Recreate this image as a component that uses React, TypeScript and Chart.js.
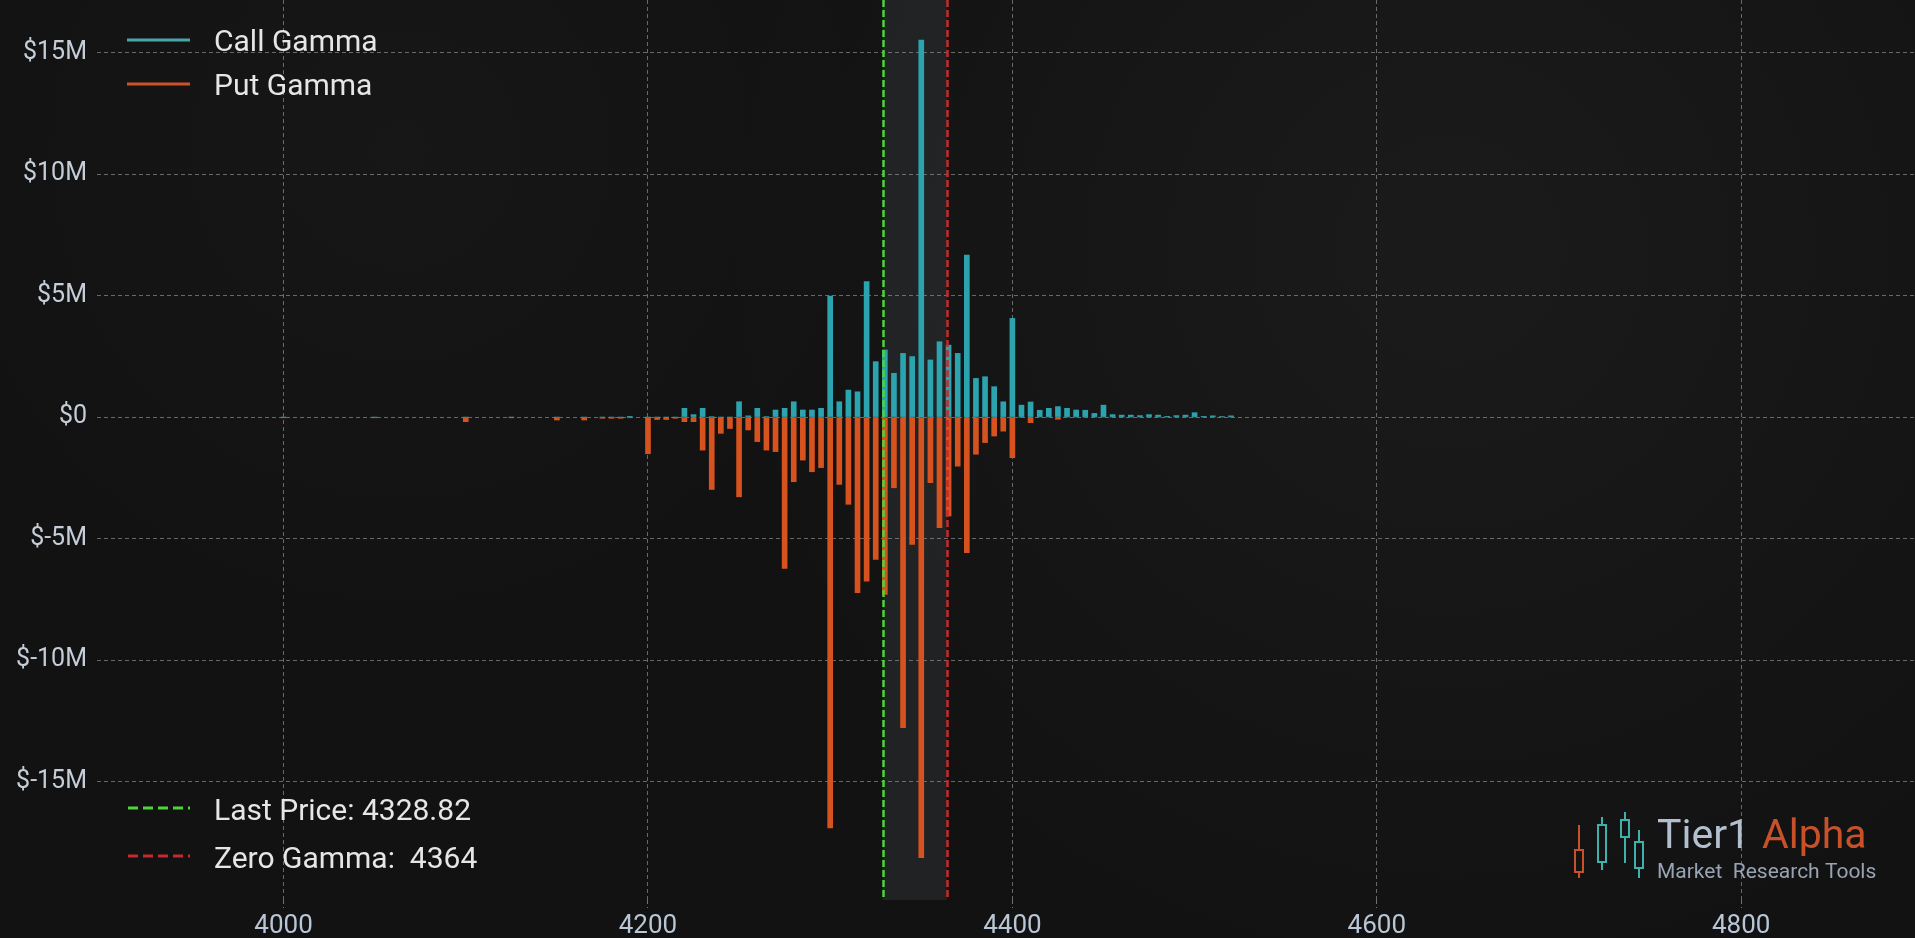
import React, { useEffect, useRef } from "react";
import { Chart, registerables } from "chart.js";

Chart.register(...registerables);

// ---- data (values in $ millions) ----
const strikes = [
  4000, 4050, 4100, 4125, 4150, 4165, 4175, 4180, 4185, 4190,
  4200, 4205, 4210, 4215, 4220, 4225, 4230, 4235, 4240, 4245,
  4250, 4255, 4260, 4265, 4270, 4275, 4280, 4285, 4290, 4295,
  4300, 4305, 4310, 4315, 4320, 4325, 4330, 4335, 4340, 4345,
  4350, 4355, 4360, 4365, 4370, 4375, 4380, 4385, 4390, 4395,
  4400, 4405, 4410, 4415, 4420, 4425, 4430, 4435, 4440, 4445,
  4450, 4455, 4460, 4465, 4470, 4475, 4480, 4485, 4490, 4495,
  4500, 4505, 4510, 4515, 4520,
];
const callGamma = [
  0, 0, 0, 0, 0, 0, 0, 0, 0, 0.03,
  0, 0, 0, 0, 0.36, 0.1, 0.36, 0.02, 0, 0,
  0.63, 0.05, 0.36, 0.02, 0.29, 0.36, 0.63, 0.29, 0.29, 0.36,
  4.98, 0.63, 1.11, 1.04, 5.57, 2.28, 2.76, 1.8, 2.62, 2.49,
  15.51, 2.35, 3.1, 2.96, 2.62, 6.67, 1.59, 1.66, 1.25, 0.63,
  4.06, 0.49, 0.62, 0.28, 0.36, 0.43, 0.36, 0.29, 0.28, 0.15,
  0.49, 0.1, 0.08, 0.08, 0.06, 0.1, 0.08, 0.03, 0.06, 0.08,
  0.18, 0.03, 0.05, 0.02, 0.05,
];
const putGamma = [
  -0.03, -0.03, -0.19, -0.03, -0.12, -0.12, -0.05, -0.05, -0.05, -0.03,
  -1.51, -0.1, -0.1, -0.05, -0.19, -0.19, -1.36, -2.98, -0.67, -0.47,
  -3.28, -0.53, -1.01, -1.36, -1.42, -6.23, -2.66, -1.77, -2.25, -2.08,
  -16.9, -2.77, -3.59, -7.23, -6.75, -5.86, -7.3, -2.91, -12.78, -5.24,
  -18.13, -2.7, -4.55, -4.07, -2.02, -5.58, -1.53, -1.05, -0.78, -0.58,
  -1.67, -0.02, -0.23, 0, 0, -0.09, 0, 0, 0, 0,
  0, 0, 0, 0, 0, 0, 0, 0, 0, 0,
  0, 0, 0, 0, 0,
];
const xTickValues = [4000, 4200, 4400, 4600, 4800];
const yTickValues = [-15, -10, -5, 0, 5, 10, 15];
const lastPrice = 4328.82;
const zeroGamma = 4364;
const seriesLabels = ["Call Gamma", "Put Gamma"];
const lineLabels = ["Last Price: 4328.82", "Zero Gamma:  4364"];
const logoWords = ["Tier1", "Alpha", "Market  Research Tools"];

const CALL = "#2ba4b0";
const PUT = "#d6531f";
const GREEN = "#4cd43a";
const RED = "#c62a2a";
const FONT = "Roboto, 'Noto Sans', sans-serif";

const bgPlugin = {
  id: "bgPlugin",
  beforeDraw(chart: any) {
    const { ctx, width, height } = chart;
    ctx.save();
    ctx.fillStyle = "#121212";
    ctx.fillRect(0, 0, width, height);
    const g = ctx.createRadialGradient(1450, 250, 40, 1450, 250, 750);
    g.addColorStop(0, "rgba(255,255,255,0.035)");
    g.addColorStop(1, "rgba(255,255,255,0)");
    ctx.fillStyle = g;
    ctx.fillRect(0, 0, width, height);
    const g2 = ctx.createRadialGradient(400, 150, 20, 400, 150, 500);
    g2.addColorStop(0, "rgba(255,255,255,0.02)");
    g2.addColorStop(1, "rgba(255,255,255,0)");
    ctx.fillStyle = g2;
    ctx.fillRect(0, 0, width, height);
    ctx.restore();
  },
};

const bandPlugin = {
  id: "bandPlugin",
  beforeDatasetsDraw(chart: any) {
    const { ctx, chartArea } = chart;
    const xs = chart.scales.x;
    const x1 = xs.getPixelForValue(lastPrice);
    const x2 = xs.getPixelForValue(zeroGamma);
    ctx.save();
    ctx.fillStyle = "rgba(150,165,180,0.11)";
    ctx.fillRect(x1, chartArea.top, x2 - x1, chartArea.bottom - chartArea.top);
    ctx.restore();
  },
  afterDatasetsDraw(chart: any) {
    const { ctx, chartArea } = chart;
    const xs = chart.scales.x;
    const draw = (v: number, color: string) => {
      const x = Math.round(xs.getPixelForValue(v)) + 0.5;
      ctx.save();
      ctx.strokeStyle = color;
      ctx.lineWidth = 2.5;
      ctx.setLineDash([7, 3]);
      ctx.beginPath();
      ctx.moveTo(x, chartArea.top);
      ctx.lineTo(x, chartArea.bottom);
      ctx.stroke();
      ctx.restore();
    };
    draw(lastPrice, GREEN);
    draw(zeroGamma, RED);
  },
};

const overlayPlugin = {
  id: "overlayPlugin",
  afterDraw(chart: any) {
    const { ctx } = chart;
    ctx.save();
    // top legend
    const rowsTop = [40, 84];
    const legendCols = ["#4aa7a9", "#cf512a"];
    ctx.font = `30px ${FONT}`;
    ctx.textBaseline = "middle";
    ctx.textAlign = "left";
    rowsTop.forEach((y, i) => {
      ctx.strokeStyle = legendCols[i];
      ctx.lineWidth = 3;
      ctx.setLineDash([]);
      ctx.beginPath();
      ctx.moveTo(127, y);
      ctx.lineTo(190, y);
      ctx.stroke();
      ctx.fillStyle = "#e6e6e6";
      ctx.fillText(seriesLabels[i], 214, y + 3);
    });
    // bottom legend
    const rowsBot = [808, 856];
    const lineCols = [GREEN, RED];
    rowsBot.forEach((y, i) => {
      ctx.strokeStyle = lineCols[i];
      ctx.lineWidth = 3;
      ctx.setLineDash([10, 5]);
      ctx.beginPath();
      ctx.moveTo(128, y);
      ctx.lineTo(190, y);
      ctx.stroke();
      ctx.setLineDash([]);
      ctx.fillStyle = "#e6e6e6";
      ctx.fillText(lineLabels[i], 214, y + 4);
    });
    // logo candles
    const candles = [
      { x: 1579, w1: 825, w2: 878, b1: 850, b2: 872, c: "#c9512a" },
      { x: 1602, w1: 817, w2: 870, b1: 825, b2: 862, c: "#3fb0aa" },
      { x: 1625, w1: 812, w2: 863, b1: 820, b2: 837, c: "#3fb0aa" },
      { x: 1639, w1: 830, w2: 878, b1: 842, b2: 868, c: "#3fb0aa" },
    ];
    candles.forEach((c) => {
      ctx.strokeStyle = c.c;
      ctx.lineWidth = 2;
      ctx.beginPath();
      ctx.moveTo(c.x, c.w1);
      ctx.lineTo(c.x, c.b1);
      ctx.moveTo(c.x, c.b2);
      ctx.lineTo(c.x, c.w2);
      ctx.stroke();
      ctx.strokeRect(c.x - 4, c.b1, 8, c.b2 - c.b1);
    });
    ctx.textBaseline = "alphabetic";
    ctx.font = `41px ${FONT}`;
    ctx.fillStyle = "#b3bfce";
    ctx.fillText(logoWords[0], 1657, 848);
    ctx.fillStyle = "#c9512a";
    ctx.fillText(logoWords[1], 1762, 848);
    ctx.font = `21px ${FONT}`;
    ctx.fillStyle = "#98a4b3";
    ctx.fillText(logoWords[2], 1657, 878);
    ctx.restore();
  },
};

export default function App() {
  const ref = useRef<HTMLCanvasElement | null>(null);
  useEffect(() => {
    document.body.style.margin = "0";
    document.body.style.background = "#121212";
    const canvas = ref.current!;
    const chart = new Chart(canvas, {
      type: "bar",
      data: {
        datasets: [
          {
            label: seriesLabels[0],
            data: strikes.map((k, i) => ({ x: k, y: callGamma[i] })),
            backgroundColor: CALL,
            borderWidth: 0,
            barThickness: 5,
            grouped: false,
          } as any,
          {
            label: seriesLabels[1],
            data: strikes.map((k, i) => ({ x: k, y: putGamma[i] })),
            backgroundColor: PUT,
            borderWidth: 0,
            barThickness: 5,
            grouped: false,
          } as any,
        ],
      },
      options: {
        responsive: false,
        animation: false,
        devicePixelRatio: 1,
        layout: { padding: 0 },
        plugins: {
          legend: { display: false },
          tooltip: { enabled: false },
        },
        scales: {
          x: {
            type: "linear",
            min: 3897.6,
            max: 4895.4,
            offset: false,
            border: { display: false, dash: [4, 3] },
            grid: {
              offset: false,
              color: "rgba(190,190,190,0.5)",
              lineWidth: 1,
              drawTicks: true,
              tickLength: 8,
              tickColor: "rgba(185,195,210,0.55)",
              tickBorderDash: [4, 3],
            } as any,
            ticks: {
              maxRotation: 0,
              padding: 3,
              color: "#b9c6d6",
              font: { family: FONT, size: 26 },
              callback: (v: any) => String(v),
            } as any,
            afterBuildTicks: (s: any) => {
              s.ticks = xTickValues.map((v) => ({ value: v }));
            },
            afterFit: (s: any) => {
              s.height = 38;
              s.paddingLeft = 0;
              s.paddingRight = 0;
            },
          },
          y: {
            type: "linear",
            min: -19.87,
            max: 17.16,
            border: { display: false, dash: [4, 3] },
            grid: {
              color: "rgba(190,190,190,0.5)",
              lineWidth: 1,
              drawTicks: false,
            } as any,
            ticks: {
              padding: 10,
              color: "#c5cdd8",
              font: { family: FONT, size: 25 },
              callback: (v: any) => (v === 0 ? "$0" : `$${v}M`),
            } as any,
            afterBuildTicks: (s: any) => {
              s.ticks = yTickValues.map((v) => ({ value: v }));
            },
            afterFit: (s: any) => {
              s.width = 97;
              s.paddingTop = 0;
              s.paddingBottom = 0;
            },
          },
        },
      } as any,
      plugins: [bgPlugin, bandPlugin, overlayPlugin],
    });
    return () => chart.destroy();
  }, []);
  return (
    <div style={{ width: 1915, height: 938, position: "relative", overflow: "hidden" }}>
      <canvas ref={ref} width={1915} height={938} style={{ display: "block", width: 1915, height: 938 }} />
    </div>
  );
}
